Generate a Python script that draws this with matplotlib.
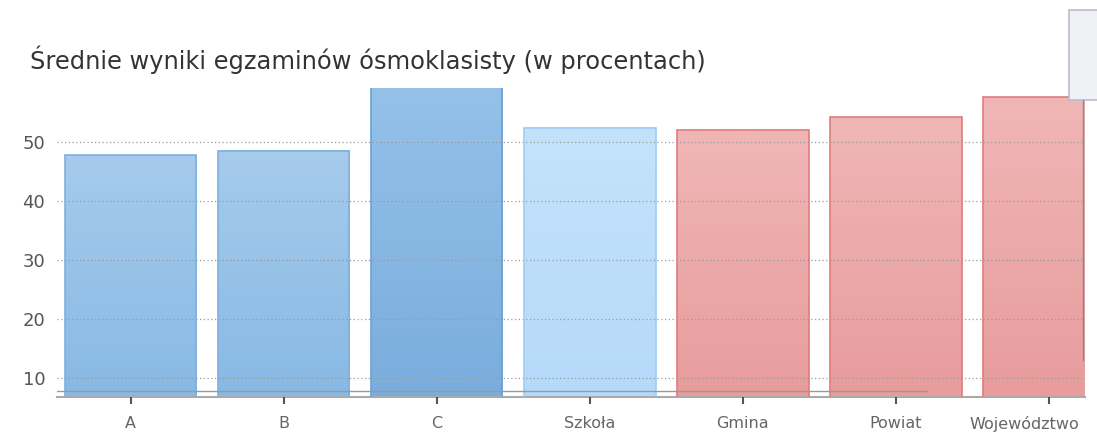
import numpy as np
import matplotlib.pyplot as plt
from matplotlib.colors import to_rgb
from matplotlib.patches import Rectangle

# %% Data:
categories = ['A', 'B', 'C', 'Szkoła', 'Gmina', 'Powiat', 'Województwo']
values = [47.8, 48.5, 60.0, 52.4, 52.0, 54.2, 57.6]
yticks = [10, 20, 30, 40, 50]

# colours (top, bottom, edge) per bar
top_cols = ['#a6cbec', '#a6cbec', '#95c1e9', '#c4e2fb', '#f0b6b6', '#f0b6b6', '#f0b6b6']
bot_cols = ['#88b9e4', '#88b9e4', '#7aaddd', '#b5daf9', '#e89c9c', '#e89c9c', '#e89c9c']
edge_cols = ['#7fb0df', '#7fb0df', '#6aa2d8', '#9fcdf5', '#e07c7c', '#e07c7c', '#e07c7c']

# %% Figure:
fig = plt.figure(figsize=(10.97, 4.32), dpi=100)
ax = fig.add_axes([0.052, 0.081, 0.937, 0.715])

x = np.arange(len(categories))
bars = ax.bar(x, values, width=0.86, color='none', edgecolor=edge_cols,
              linewidth=1.2, zorder=3)

ylo, yhi = 6.8, 59.15

# vertical gradient inside each bar
t = np.linspace(0, 1, 100)[:, None]
for b, ct, cb in zip(bars, top_cols, bot_cols):
    c1, c2 = np.array(to_rgb(ct)), np.array(to_rgb(cb))
    grad = (c1 * (1 - t) + c2 * t)[:, None, :]
    im = ax.imshow(grad, extent=[b.get_x(), b.get_x() + b.get_width(),
                                 ylo, b.get_height()],
                   aspect='auto', origin='upper', zorder=2)
    im.set_clip_path(b)
    im.set_clip_box(ax.bbox)
ax.set_xlim(-0.48, 6.235)
ax.set_ylim(ylo, yhi)

ax.set_yticks(yticks)
ax.yaxis.grid(True, color='#9a9a9a', linestyle=(0, (1, 2)), linewidth=0.9, zorder=4)
ax.set_axisbelow(False)
ax.tick_params(axis='y', length=0, pad=8.5, labelsize=13, labelcolor='#555555')
ax.set_xticks(x)
ax.set_xticklabels(categories[:-1] + [''])
ax.tick_params(axis='x', length=5, width=1.5, color='#555555', pad=9,
               labelsize=11.5, labelcolor='#666666')
# last label is pulled left so it stays inside the chart
ax.text(5.84, -0.063, categories[-1], transform=ax.get_xaxis_transform(),
        ha='center', va='top', fontsize=11.5, color='#666666')

for s in ['top', 'right', 'left']:
    ax.spines[s].set_visible(False)
ax.spines['bottom'].set_color('#aaaaaa')
ax.spines['bottom'].set_linewidth(1.5)

# thin reference line near the bottom
ax.plot([-0.48, 5.2], [7.9, 7.9], color='#999999', linewidth=1.0, zorder=5)

# title
fig.text(0.027, 0.84, 'Średnie wyniki egzaminów ósmoklasisty (w procentach)',
         fontsize=17.4, color='#333333', family='DejaVu Sans')

# small widget box at top right
fig.patches.append(Rectangle((1069 / 1097, 1 - 100 / 432), 30 / 1097, 90 / 432,
                             transform=fig.transFigure, facecolor='#f0f1f5',
                             edgecolor='#b8bfcc', linewidth=1.2))
fig.add_artist(plt.Line2D([1083 / 1097, 1083 / 1097], [1 - 360 / 432, 1 - 100 / 432],
                          transform=fig.transFigure, color='#888888', linewidth=1))

fig.savefig('out.png', dpi=100)
